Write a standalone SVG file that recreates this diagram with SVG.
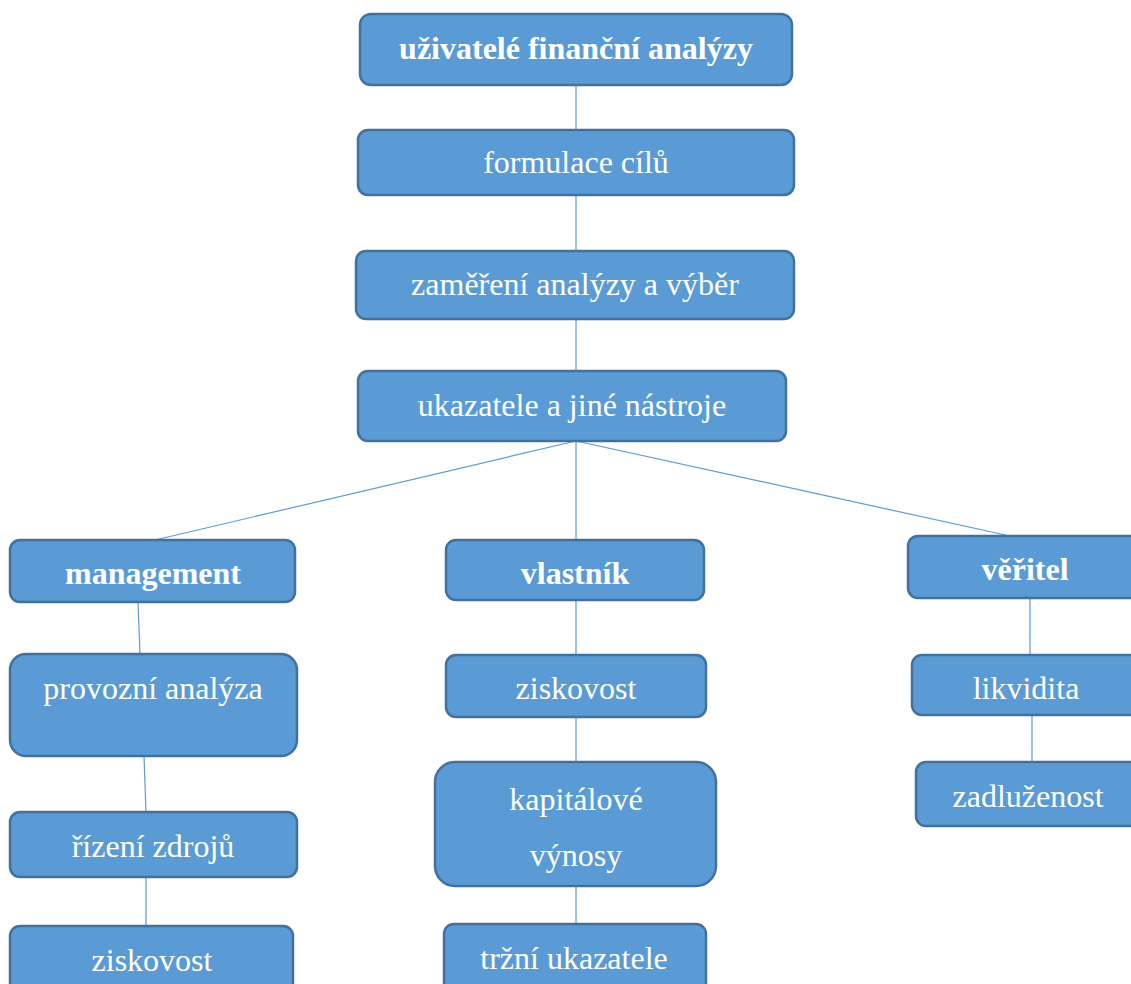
<svg xmlns="http://www.w3.org/2000/svg" width="1131" height="984" viewBox="0 0 1131 984">
<style>
.box{fill:#5B9BD5;stroke:#41719C;stroke-width:2.5}
.t{font-family:"Liberation Serif","Times New Roman",serif;font-size:32px;fill:#fff;text-anchor:middle}
.b{font-weight:bold}
.c{stroke:#5B9BD5;stroke-width:1.2;fill:none}
</style>
<rect width="1131" height="984" fill="#fff"/>
<g id="connectors">
<line class="c" x1="576" y1="85" x2="576" y2="130"/>
<line class="c" x1="576" y1="195" x2="576" y2="251"/>
<line class="c" x1="576" y1="319" x2="576" y2="371"/>
<line class="c" x1="576" y1="441" x2="155" y2="540"/>
<line class="c" x1="576" y1="441" x2="576" y2="540"/>
<line class="c" x1="576" y1="441" x2="1010" y2="536"/>
<line class="c" x1="138" y1="602" x2="140" y2="654"/>
<line class="c" x1="144" y1="756" x2="146" y2="812"/>
<line class="c" x1="146" y1="877" x2="146" y2="926"/>
<line class="c" x1="576" y1="600" x2="576" y2="655"/>
<line class="c" x1="576" y1="717" x2="576" y2="762"/>
<line class="c" x1="576" y1="886" x2="576" y2="924"/>
<line class="c" x1="1030" y1="598" x2="1030" y2="655"/>
<line class="c" x1="1032" y1="715" x2="1032" y2="762"/>
</g>
<g id="n1"><rect class="box" x="360" y="14" width="432" height="71" rx="11"/><text class="t b" x="576" y="59">uživatelé finanční analýzy</text></g>
<g id="n2"><rect class="box" x="358" y="130" width="436" height="65" rx="10"/><text class="t" x="576" y="173">formulace cílů</text></g>
<g id="n3"><rect class="box" x="356" y="251" width="438" height="68" rx="10"/><text class="t" x="575" y="295">zaměření analýzy a výběr</text></g>
<g id="n4"><rect class="box" x="358" y="371" width="428" height="70" rx="10"/><text class="t" x="572" y="416">ukazatele a jiné nástroje</text></g>
<g id="n5"><rect class="box" x="10" y="540" width="285" height="62" rx="10"/><text class="t b" x="153" y="584">management</text></g>
<g id="n6"><rect class="box" x="446" y="540" width="258" height="60" rx="10"/><text class="t b" x="575" y="584">vlastník</text></g>
<g id="n7"><rect class="box" x="908" y="536" width="240" height="62" rx="10"/><text class="t b" x="1025" y="580">věřitel</text></g>
<g id="n8"><rect class="box" x="10" y="654" width="287" height="102" rx="16"/><text class="t" x="153" y="699">provozní analýza</text></g>
<g id="n9"><rect class="box" x="446" y="655" width="260" height="62" rx="10"/><text class="t" x="576" y="699">ziskovost</text></g>
<g id="n10"><rect class="box" x="912" y="655" width="236" height="60" rx="10"/><text class="t" x="1026" y="699">likvidita</text></g>
<g id="n11"><rect class="box" x="10" y="812" width="287" height="65" rx="10"/><text class="t" x="153" y="857">řízení zdrojů</text></g>
<g id="n12"><rect class="box" x="435" y="762" width="281" height="124" rx="20"/><text class="t" x="576" y="810">kapitálové</text><text class="t" x="576" y="866">výnosy</text></g>
<g id="n13"><rect class="box" x="916" y="762" width="232" height="64" rx="10"/><text class="t" x="1028" y="807">zadluženost</text></g>
<g id="n14"><rect class="box" x="10" y="926" width="283" height="70" rx="10"/><text class="t" x="152" y="971">ziskovost</text></g>
<g id="n15"><rect class="box" x="444" y="924" width="262" height="72" rx="10"/><text class="t" x="574" y="969">tržní ukazatele</text></g>
</svg>
